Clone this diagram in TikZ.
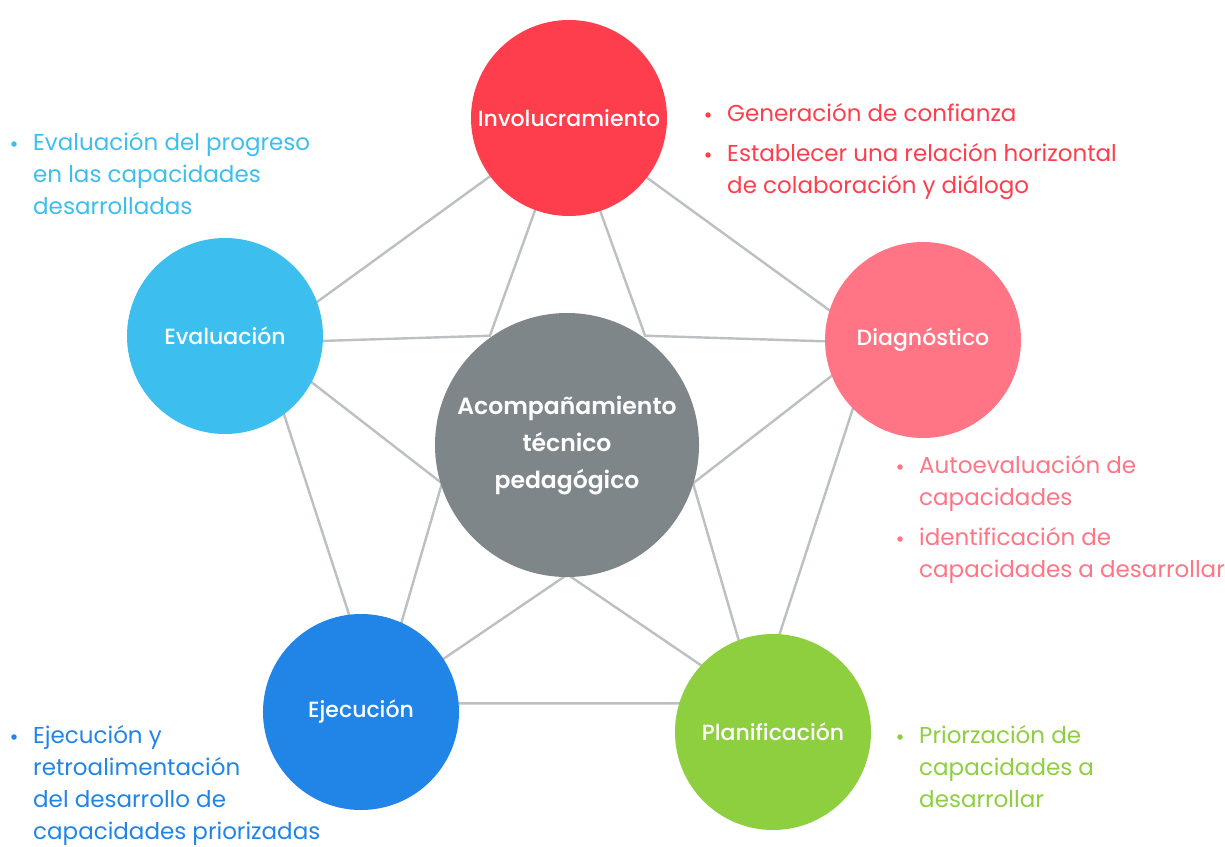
\documentclass[tikz,border=0pt]{standalone}
\usepackage{fontspec}
\usetikzlibrary{calc}
\setmainfont{Poppins}
\newfontfamily\labelfont{Poppins Medium}
\newfontfamily\hubfont{Poppins SemiBold}
\newcommand\notelines[1]{\begin{tabular}[t]{@{}l@{}}#1\end{tabular}}
\begin{document}
\begin{tikzpicture}[x=1pt,y=-1pt,
  link/.style={draw=linegray,line width=2.4pt},
  stage/.style={circle,minimum size=196pt,inner sep=0pt,text=white,font=\labelfont\fontsize{22}{26}\selectfont},
  hub/.style={circle,minimum size=264pt,inner sep=0pt,text=white,align=center,font=\hubfont\fontsize{23.5}{37}\selectfont},
  note/.style={anchor=base west,inner sep=0pt,font=\fontsize{23}{32}\selectfont},
  dot/.style={circle,inner sep=0pt,minimum size=5.5pt}]
\definecolor{linegray}{HTML}{BCC0C1}
\definecolor{cinv}{HTML}{FF3E4D}
\definecolor{cdiag}{HTML}{FF7585}
\definecolor{cplan}{HTML}{8DCF3F}
\definecolor{cejec}{HTML}{2185E8}
\definecolor{ceval}{HTML}{3CBFEF}
\definecolor{chub}{HTML}{7E868A}
\useasboundingbox[fill=white] (0,0) rectangle (1225,846);

% corners of the regular pentagon behind the circles (y grows downwards)
\coordinate (pc) at (567.5,442.5);
\coordinate (vinv)  at ($(pc)+(-90:322.5)$);
\coordinate (vdiag) at ($(pc)+(-18:322.5)$);
\coordinate (vplan) at ($(pc)+(54:322.5)$);
\coordinate (vejec) at ($(pc)+(126:322.5)$);
\coordinate (veval) at ($(pc)+(198:322.5)$);
% inner points of the star, on the rim of the central circle
\coordinate (iup)    at ($(pc)+(-126:132)$);
\coordinate (iupr)   at ($(pc)+(-54:132)$);
\coordinate (iright) at ($(pc)+(18:132)$);
\coordinate (ilow)   at ($(pc)+(90:132)$);
\coordinate (ileft)  at ($(pc)+(162:132)$);

% pentagon outline
\draw[link] (vinv) -- (vdiag) -- (vplan) -- (vejec) -- (veval) -- cycle;
% star from each stage towards the centre
\draw[link] (vinv) -- (iup) -- (veval) -- (ileft) -- (vejec) -- (ilow)
  -- (vplan) -- (iright) -- (vdiag) -- (iupr) -- cycle;

\node[stage,fill=cinv] (inv) at (569,118) {Involucramiento};
\node[stage,fill=cdiag] (diag) at (923,340) {Diagnóstico};
\node[stage,fill=cplan] (plan) at (773,732) {Planificación};
\node[stage,fill=cejec] (ejec) at (361,712) {Ejecución};
\node[stage,fill=ceval] (eval) at (225,336) {Evaluación};
\node[hub,fill=chub] (hub) at (567,445) {Acompañamiento\\técnico\\pedagógico};

% notes beside each stage
\node[dot,fill=cinv] (b1) at (708,115) {};
\node[note,text=cinv] (n1) at (727,121) {Generación de confianza};
\node[dot,fill=cinv] (b2) at (708,155) {};
\node[note,text=cinv] (n2) at (727,161) {\notelines{Establecer una relación horizontal\\de colaboración y diálogo}};

\node[dot,fill=ceval] (b3) at (14,144) {};
\node[note,text=ceval] (n3) at (33,150) {\notelines{Evaluación del progreso\\en las capacidades\\desarrolladas}};

\node[dot,fill=cdiag] (b4) at (900,467) {};
\node[note,text=cdiag] (n4) at (919,473) {\notelines{Autoevaluación de\\capacidades}};
\node[dot,fill=cdiag] (b5) at (900,539) {};
\node[note,text=cdiag] (n5) at (919,545) {\notelines{identificación de\\capacidades a desarrollar}};

\node[dot,fill=cplan] (b6) at (900,737) {};
\node[note,text=cplan] (n6) at (919,743) {\notelines{Priorzación de\\capacidades a\\desarrollar}};

\node[dot,fill=cejec] (b7) at (14,737) {};
\node[note,text=cejec] (n7) at (33,743) {\notelines{Ejecución y\\retroalimentación\\del desarrollo de\\capacidades priorizadas}};
\end{tikzpicture}
\end{document}
